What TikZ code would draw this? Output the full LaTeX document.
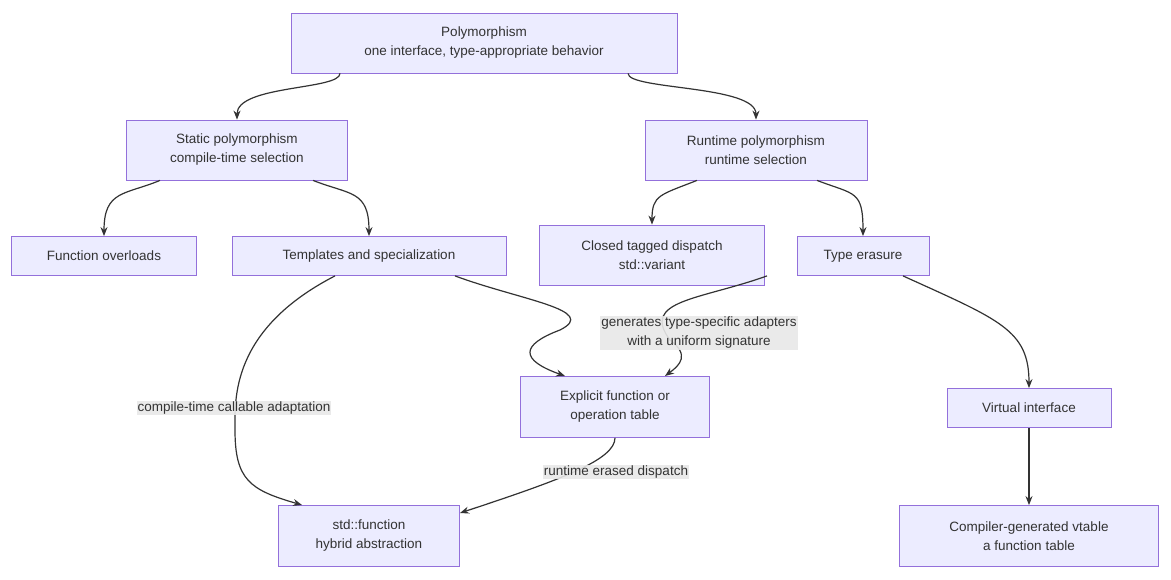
\documentclass[tikz,border=0pt]{standalone}
\usepackage{fontspec}
\setmainfont{Liberation Sans}
\usetikzlibrary{arrows.meta}
\definecolor{nf}{HTML}{ECECFF}
\definecolor{nd}{HTML}{9370DB}
\definecolor{ln}{HTML}{333333}
\definecolor{lb}{HTML}{E8E8E8}
\begin{document}
\begin{tikzpicture}[x=1pt,y=-1pt,
 box/.style={draw=nd,fill=nf,line width=0.8pt,align=center,font=\fontsize{13.5}{19}\selectfont,text=ln,minimum height=39pt,inner xsep=8pt},
 lab/.style={fill=lb,fill opacity=0.9,text opacity=1,align=center,font=\fontsize{13.5}{19}\selectfont,text=ln,inner sep=1pt},
 e/.style={draw=ln,line width=1.2pt,-{Stealth[length=9pt,width=7pt]}}]
\useasboundingbox (0,0) rectangle (1171,580);
\node[box,minimum width=386pt,minimum height=60pt] (p) at (484,43) {Polymorphism\\one interface, type-appropriate behavior};
\node[box,minimum width=221pt,minimum height=60pt] (s) at (237,150) {Static polymorphism\\compile-time selection};
\node[box,minimum width=222pt,minimum height=60pt] (r) at (756,150) {Runtime polymorphism\\runtime selection};
\node[box,minimum width=185pt] (fo) at (104,256) {Function overloads};
\node[box,minimum width=274pt] (t) at (369,256) {Templates and specialization};
\node[box,minimum width=225pt,minimum height=60pt] (c) at (652,255) {Closed tagged dispatch\\std::variant};
\node[box,minimum width=132pt] (te) at (863,256) {Type erasure};
\node[box,minimum width=189pt,minimum height=61pt] (x) at (615,407) {Explicit function or\\operation table};
\node[box,minimum width=164pt] (v) at (1029,408) {Virtual interface};
\node[box,minimum width=181pt,minimum height=61pt] (f) at (369,536) {std::function\\hybrid abstraction};
\node[box,minimum width=259pt,minimum height=61pt] (g) at (1029,536) {Compiler-generated vtable\\a function table};
\draw[e] (p.south -| 340,0) .. controls (340,90) and (237,85) .. (s.north);
\draw[e] (p.south -| 628,0) .. controls (628,90) and (756,85) .. (r.north);
\draw[e] (s.south -| 160,0) .. controls (125,195) and (104,190) .. (fo.north);
\draw[e] (s.south -| 313,0) .. controls (350,195) and (369,190) .. (t.north);
\draw[e] (r.south -| 697,0) .. controls (660,195) and (652,195) .. (c.north);
\draw[e] (r.south -| 817,0) .. controls (855,195) and (863,190) .. (te.north);
\draw[e] (t.south -| 455,0) .. controls (520,300) and (600,310) .. (560,330) .. controls (520,345) and (520,360) .. (565,376);
\draw[e] (te.south -| 767,0) .. controls (700,300) and (640,300) .. (670,340) .. controls (690,355) and (680,365) .. (665,376);
\draw[e] (te.south -| 903,0) .. controls (1000,320) and (1029,330) .. (v.north);
\draw[e] (v) -- (g);
\draw[e] (t.south -| 335,0) .. controls (230,330) and (235,400) .. (235,430) .. controls (235,480) and (250,490) .. (302,505);
\draw[e] (x.south) .. controls (615,460) and (560,480) .. (460,513);
\node[lab] at (699,333) {generates type-specific adapters\\with a uniform signature};
\node[lab] at (234,408) {compile-time callable adaptation};
\node[lab] at (616,472) {runtime erased dispatch};
\end{tikzpicture}
\end{document}
